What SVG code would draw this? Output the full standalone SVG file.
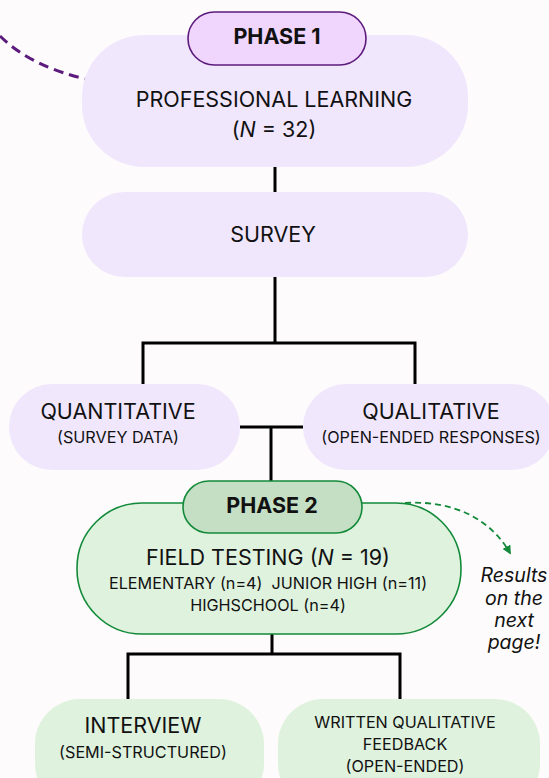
<svg xmlns="http://www.w3.org/2000/svg" width="549" height="778" viewBox="0 0 549 778">
<defs>
<style>
.t{font-family:Inter,"Noto Sans",sans-serif;fill:#111;text-anchor:middle;white-space:pre}
.big{font-size:21.5px}
.sm{font-size:16.2px}
.b{font-weight:700;font-size:21.5px}
.pp{fill:#f0e7fd}
.gp{fill:#dff2de}
.conn{fill:none;stroke:#000;stroke-width:3}
</style>
<marker id="ah" viewBox="0 0 10 10" refX="8" refY="5" markerWidth="5" markerHeight="5" orient="auto">
<path d="M0,0 L10,5 L0,10 z" fill="#138a3a"/>
</marker>
</defs>
<rect width="549" height="778" fill="#fdfbfb"/>
<g id="connectors">
<path class="conn" d="M275,167 V192"/>
<path class="conn" d="M275,277 V343 M143,384 V343 H415 V384"/>
<path class="conn" d="M240,427 H303 M271,427 V481"/>
<path class="conn" d="M272,634 V654 M128,699 V654 H400 V699"/>
<path d="M0,36 Q30,66 86,79" fill="none" stroke="#5c1b7c" stroke-width="3" stroke-dasharray="10,6"/>
<path d="M405,503 C452,500 490,518 510,553" fill="none" stroke="#138a3a" stroke-width="1.8" stroke-dasharray="6,4" marker-end="url(#ah)"/>
</g>
<g id="phase1">
<rect class="pp" x="82" y="35" width="386" height="132" rx="62"/>
<rect x="188" y="12" width="178" height="53" rx="26.5" fill="#f0d5fd" stroke="#5c1b7c" stroke-width="1.6"/>
<text class="t b" x="277" y="44">PHASE 1</text>
<text class="t big" x="274" y="107">PROFESSIONAL LEARNING</text>
<text class="t big" x="274" y="137">(<tspan font-style="italic">N</tspan> = 32)</text>
</g>
<g id="survey">
<rect class="pp" x="82" y="192" width="386" height="85" rx="42.5"/>
<text class="t big" x="273" y="242">SURVEY</text>
</g>
<g id="quantitative">
<rect class="pp" x="9" y="384" width="231" height="86" rx="43"/>
<text class="t big" x="118" y="419">QUANTITATIVE</text>
<text class="t sm" x="118" y="443">(SURVEY DATA)</text>
</g>
<g id="qualitative">
<rect class="pp" x="303" y="384" width="252" height="86" rx="43"/>
<text class="t big" x="431" y="419">QUALITATIVE</text>
<text class="t sm" x="431" y="443">(OPEN-ENDED RESPONSES)</text>
</g>
<g id="phase2">
<rect class="gp" x="77" y="503" width="384" height="131" rx="65" stroke="#138a3a" stroke-width="1.6"/>
<rect x="183" y="481" width="179" height="52" rx="26" fill="#c4dfc4" stroke="#138a3a" stroke-width="1.6"/>
<text class="t b" x="272" y="513">PHASE 2</text>
<text class="t big" x="268" y="565">FIELD TESTING (<tspan font-style="italic">N</tspan> = 19)</text>
<text class="t sm" x="268" y="589">ELEMENTARY (n=4)  JUNIOR HIGH (n=11)</text>
<text class="t sm" x="268" y="611">HIGHSCHOOL (n=4)</text>
</g>
<g id="note">
<text class="t" style="font-size:19.5px;font-style:italic" x="514"><tspan x="514" y="582">Results</tspan><tspan x="514" y="605">on the</tspan><tspan x="514" y="627">next</tspan><tspan x="514" y="649">page!</tspan></text>
</g>
<g id="interview">
<rect class="gp" x="35" y="699" width="229" height="110" rx="45"/>
<text class="t big" x="143" y="733">INTERVIEW</text>
<text class="t sm" x="143" y="758">(SEMI-STRUCTURED)</text>
</g>
<g id="written">
<rect class="gp" x="278" y="699" width="262" height="110" rx="45"/>
<text class="t sm" x="405" y="728">WRITTEN QUALITATIVE</text>
<text class="t sm" x="405" y="750">FEEDBACK</text>
<text class="t sm" x="405" y="772">(OPEN-ENDED)</text>
</g>
</svg>
